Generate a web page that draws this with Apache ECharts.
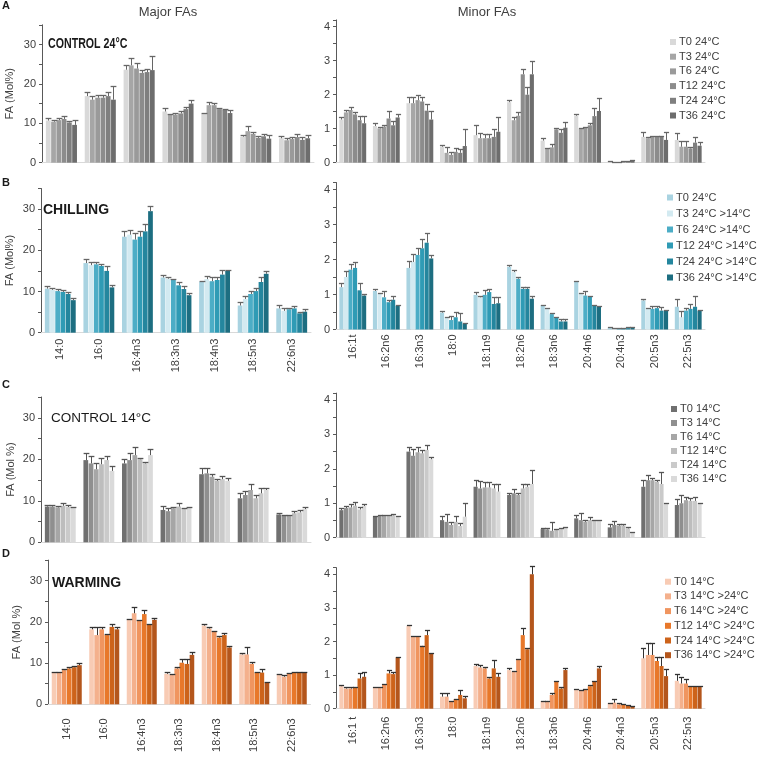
<!DOCTYPE html>
<html><head><meta charset="utf-8">
<script src="https://cdn.jsdelivr.net/npm/echarts@6/dist/echarts.min.js"></script>
<style>html,body{margin:0;padding:0;background:#fff}#c{width:758px;height:757px}</style>
</head><body><div id="c"></div>
<script>
// ---------- categories ----------
const majorCats = ['14:0','16:0','16:4n3','18:3n3','18:4n3','18:5n3','22:6n3'];
const minorCats = ['16:1t','16:2n6','16:3n3','18:0','18:1n9','18:2n6','18:3n6','20:4n6','20:4n3','20:5n3','22:5n3'];
const minorCatsD = ['16:1 t','16:2n6','16:3n3','18:0','18:1n9','18:2n6','18:3n6','20:4n6','20:4n3','20:5n3','22:5n3'];

// ---------- legend names ----------
const namesA = ['T0 24°C','T3 24°C','T6 24°C','T12 24°C','T24 24°C','T36 24°C'];
const namesB = ['T0 24°C','T3 24°C >14°C','T6 24°C >14°C','T12 24°C >14°C','T24 24°C >14°C','T36 24°C >14°C'];
const namesC = ['T0 14°C','T3 14°C','T6 14°C','T12 14°C','T24 14°C','T36 14°C'];
const namesD = ['T0 14°C','T3 14°C >24°C','T6 14°C >24°C','T12 14°C >24°C','T24 14°C >24°C','T36 14°C >24°C'];

// ---------- values: one row per category, columns T0,T3,T6,T12,T24,T36 ----------
const A_major = [[10.7,10.4,10.8,11.1,10.2,9.6],[16.9,16.0,16.5,16.5,16.9,16.0],[23.6,24.7,23.9,22.8,23.0,23.5],[13.0,12.1,12.2,12.5,13.6,15.0],[12.5,14.6,14.6,13.6,13.4,12.6],[6.6,8.0,7.3,6.3,6.7,6.1],[6.2,5.7,6.0,6.5,5.8,6.2]];
const A_majorErr = [[0.6,0.5,0.5,0.8,0.5,1.2],[1.0,1.0,0.6,0.6,1.1,3.4],[1.2,1.9,1.4,0.7,0.7,3.5],[0.9,0.3,0.4,0.5,0.6,0.8],[0.2,0.9,0.6,0.3,0.2,0.8],[0.5,1.3,0.6,0.5,0.6,0.9],[0.5,0.5,0.5,0.7,0.6,0.8]];
const A_minor = [[1.27,1.48,1.55,1.42,1.25,1.16],[1.08,1.01,1.06,1.30,1.10,1.33],[1.75,1.75,1.84,1.80,1.53,1.27],[0.47,0.29,0.23,0.32,0.29,0.49],[0.81,0.72,0.72,0.72,0.76,0.91],[1.78,1.25,1.38,2.60,2.00,2.60],[0.65,0.42,0.45,0.98,0.88,1.03],[1.38,1.00,1.03,1.10,1.37,1.52],[0.05,0.02,0.02,0.03,0.04,0.07],[0.76,0.72,0.76,0.76,0.76,0.67],[0.67,0.47,0.47,0.42,0.59,0.50]];
const A_minorErr = [[0.08,0.08,0.09,0.07,0.12,0.22],[0.08,0.05,0.05,0.22,0.12,0.09],[0.19,0.19,0.15,0.12,0.19,0.26],[0.05,0.16,0.09,0.10,0.11,0.51],[0.29,0.14,0.11,0.11,0.22,0.44],[0.06,0.10,0.12,0.15,0.22,0.38],[0.08,0.02,0.10,0.04,0.12,0.16],[0.05,0.03,0.03,0.06,0.23,0.38],[0.01,0.01,0.01,0.01,0.02,0.02],[0.13,0.05,0.03,0.03,0.03,0.24],[0.19,0.18,0.18,0.03,0.16,0.12]];

const B_major = [[10.7,10.4,10.1,9.9,9.4,7.9],[16.9,16.4,16.6,16.2,15.0,11.0],[23.3,23.8,22.6,23.3,24.6,29.5],[13.4,13.1,12.8,11.5,10.6,9.1],[12.4,13.0,12.5,12.8,14.1,15.0],[6.6,8.2,9.4,10.1,12.3,14.3],[5.9,5.3,5.7,5.9,4.7,5.1]];
const B_majorErr = [[0.6,0.5,0.5,0.4,0.6,0.5],[0.9,0.7,0.6,0.5,1.3,0.6],[1.4,1.1,1.6,1.4,1.7,1.3],[0.6,0.3,0.2,0.7,0.7,0.5],[0.1,0.7,1.0,0.8,1.2,0.2],[0.8,0.8,0.8,0.7,1.1,0.6],[0.8,0.6,0.4,0.6,0.4,0.6]];
const B_minor = [[1.21,1.50,1.71,1.76,1.12,0.97],[1.10,1.02,0.92,0.78,0.85,0.68],[1.76,1.93,2.13,2.32,2.48,2.03],[0.48,0.35,0.27,0.35,0.23,0.17],[0.99,0.92,0.99,1.07,0.73,0.75],[1.79,1.64,1.45,1.16,1.16,0.88],[0.70,0.59,0.44,0.33,0.23,0.23],[1.36,1.02,0.97,0.94,0.68,0.66],[0.05,0.03,0.03,0.03,0.04,0.05],[0.83,0.59,0.59,0.61,0.54,0.54],[0.65,0.35,0.54,0.59,0.65,0.54]];
const B_minorErr = [[0.13,0.16,0.17,0.17,0.22,0.05],[0.05,0.03,0.17,0.05,0.12,0.02],[0.19,0.24,0.19,0.26,0.27,0.10],[0.04,0.02,0.12,0.14,0.23,0.02],[0.08,0.05,0.13,0.09,0.19,0.17],[0.05,0.07,0.05,0.05,0.05,0.09],[0.01,0.03,0.02,0.02,0.07,0.07],[0.04,0.02,0.12,0.03,0.01,0.01],[0.01,0.01,0.01,0.01,0.02,0.02],[0.05,0.02,0.09,0.07,0.11,0.01],[0.23,0.19,0.07,0.14,0.32,0.01]];

const C_major = [[8.6,8.6,8.4,8.8,8.5,8.4],[19.8,19.0,17.6,18.8,19.8,17.2],[19.0,19.8,21.0,20.0,19.0,21.0],[7.8,7.5,8.2,8.6,8.0,8.3],[16.4,16.6,15.8,14.8,15.2,14.8],[10.6,11.4,12.6,10.6,11.8,12.6],[6.7,6.4,6.4,7.0,7.2,8.0]];
const C_majorErr = [[0.4,0.4,0.3,0.7,0.6,0.2],[1.6,1.8,1.4,1.6,1.0,1.2],[1.0,1.8,2.0,0.4,0.4,1.4],[0.9,0.8,0.4,0.9,0.3,0.1],[1.6,1.4,0.6,0.4,0.8,0.6],[1.2,0.9,1.4,0.9,1.2,0.6],[0.4,0.2,0.2,0.5,0.6,0.6]];
const C_minor = [[0.80,0.86,0.88,0.93,0.82,0.92],[0.61,0.63,0.63,0.65,0.65,0.63],[2.50,2.38,2.48,2.45,2.55,2.28],[0.51,0.46,0.37,0.46,0.34,0.61],[1.48,1.43,1.46,1.46,1.43,1.34],[1.24,1.29,1.24,1.43,1.48,1.56],[0.25,0.24,0.20,0.22,0.25,0.29],[0.56,0.51,0.46,0.51,0.51,0.51],[0.30,0.37,0.35,0.35,0.27,0.15],[1.48,1.67,1.67,1.62,1.56,0.98],[0.95,1.00,1.09,1.07,1.07,1.00]];
const C_minorErr = [[0.06,0.06,0.10,0.12,0.07,0.06],[0.03,0.02,0.02,0.02,0.04,0.01],[0.12,0.20,0.15,0.10,0.15,0.06],[0.12,0.23,0.09,0.17,0.10,0.41],[0.20,0.23,0.15,0.15,0.13,0.21],[0.07,0.12,0.05,0.12,0.07,0.41],[0.02,0.05,0.26,0.02,0.02,0.01],[0.10,0.20,0.05,0.10,0.01,0.01],[0.10,0.12,0.05,0.05,0.05,0.02],[0.21,0.15,0.05,0.06,0.36,0.02],[0.16,0.24,0.09,0.07,0.10,0.02]];

const D_major = [[7.7,7.7,8.3,8.7,9.0,9.5],[18.2,16.8,18.2,16.8,18.8,18.2],[20.5,22.1,20.3,21.9,19.4,20.5],[7.4,7.1,8.7,10.1,9.8,12.0],[19.1,18.4,17.6,16.2,16.8,13.8],[12.1,12.1,9.8,7.7,7.7,5.3],[7.1,6.7,7.5,7.8,7.7,7.8]];
const D_majorErr = [[0.2,0.2,0.2,0.3,0.3,0.6],[0.6,2.0,0.6,0.3,0.8,0.6],[0.1,1.6,0.1,1.0,0.2,0.5],[0.5,0.3,0.3,0.8,1.1,0.8],[0.3,0.4,0.2,0.4,0.4,0.3],[0.4,1.7,0.5,0.2,0.8,0.2],[0.3,0.4,0.2,0.1,0.1,0.1]];
const D_minor = [[0.67,0.60,0.60,0.64,0.90,0.95],[0.63,0.63,0.73,1.05,1.03,1.53],[2.46,2.14,2.14,1.87,2.19,1.65],[0.36,0.36,0.21,0.28,0.41,0.31],[1.27,1.23,1.20,0.90,1.20,0.95],[1.15,1.10,1.45,2.19,1.77,4.00],[0.23,0.23,0.41,0.80,0.60,1.15],[0.58,0.54,0.56,0.67,0.80,1.20],[0.16,0.18,0.13,0.11,0.11,0.06],[1.50,1.60,1.60,1.42,1.27,0.97],[0.83,0.75,0.75,0.66,0.66,0.67]];
const D_minorErr = [[0.03,0.04,0.04,0.02,0.17,0.15],[0.01,0.01,0.01,0.10,0.07,0.01],[0.02,0.02,0.02,0.01,0.15,0.01],[0.10,0.12,0.01,0.01,0.15,0.07],[0.06,0.07,0.05,0.05,0.25,0.10],[0.05,0.02,0.02,0.22,0.03,0.25],[0.01,0.01,0.05,0.03,0.06,0.05],[0.01,0.01,0.02,0.03,0.03,0.07],[0.02,0.10,0.05,0.02,0.01,0.03],[0.30,0.35,0.35,0.13,0.28,0.20],[0.20,0.20,0.12,0.02,0.02,0.01]];

// ---------- styling ----------
const FONT = "'Liberation Sans', Arial, sans-serif";
const colorsA = ['#d9d9d9','#a6a6a6','#9a9a9a','#8c8c8c','#7f7f7f','#6d6d6d'];
const colorsB = ['#a9d3e1','#d3eaf1','#4cadc6','#2f9bb5','#24869e','#1d6e81'];
const colorsC = ['#707070','#8f8f8f','#a6a6a6','#bdbdbd','#cacaca','#dadada'];
const colorsD = ['#f8cbb4','#f4b08c','#f0955f','#e8782a','#cd631a','#b4561c'];

const panels = [
  {cats: majorCats, vals: A_major, errs: A_majorErr, colors: colorsA, names: namesA, major: true,  grid: {left: 42, top: 24.8, width: 272, height: 137.9}, showLabels: false, yName: 'FA (Mol%)', nameGap: 27, errColor: '#666'},
  {cats: minorCats, vals: A_minor, errs: A_minorErr, colors: colorsA, names: namesA, major: false, grid: {left: 336, top: 19.9, width: 369, height: 142.8}, showLabels: false, errColor: '#666',
    legend: {left: 665, top: 31, itemGap: 2.7}},
  {cats: majorCats, vals: B_major, errs: B_majorErr, colors: colorsB, names: namesB, major: true,  grid: {left: 41, top: 188.5, width: 270, height: 144.2}, showLabels: true, margin: 6, yName: 'FA (Mol%)', nameGap: 25.5, errColor: '#666'},
  {cats: minorCats, vals: B_minor, errs: B_minorErr, colors: colorsB, names: namesB, major: false, grid: {left: 336, top: 182.5, width: 369, height: 147}, showLabels: true, margin: 5, errColor: '#666',
    legend: {left: 662, top: 186.5, itemGap: 4}},
  {cats: majorCats, vals: C_major, errs: C_majorErr, colors: colorsC, names: namesC, major: true,  grid: {left: 41, top: 397, width: 270, height: 145.3}, showLabels: false, yName: 'FA (Mol %)', nameGap: 25, errColor: '#555'},
  {cats: minorCats, vals: C_minor, errs: C_minorErr, colors: colorsC, names: namesC, major: false, grid: {left: 336, top: 393.1, width: 369, height: 144.6}, showLabels: false, errColor: '#555',
    legend: {left: 666, top: 398, itemGap: 2}},
  {cats: majorCats, vals: D_major, errs: D_majorErr, colors: colorsD, names: namesD, major: true,  grid: {left: 48, top: 560.1, width: 262.5, height: 144.2}, showLabels: true, margin: 14, yName: 'FA (Mol %)', nameGap: 26, errColor: '#333'},
  {cats: minorCatsD, vals: D_minor, errs: D_minorErr, colors: colorsD, names: namesD, major: false, grid: {left: 336, top: 567.6, width: 369, height: 141.1}, showLabels: true, margin: 8, errColor: '#333',
    legend: {left: 660, top: 570.7, itemGap: 2.7}}
];

const BAR_GAP = 0.1, CAT_GAP = 0.2, N = 6;
const grids = [], xAxes = [], yAxes = [], series = [], legends = [];

panels.forEach((p, gi) => {
  grids.push(Object.assign({containLabel: false}, p.grid));
  xAxes.push({
    type: 'category', gridIndex: gi, data: p.cats,
    axisLine: {lineStyle: {color: '#d9d9d9', width: 1}},
    axisTick: {show: false},
    axisLabel: {show: p.showLabels, rotate: 90, interval: 0, fontSize: 11, color: '#404040', fontFamily: FONT, margin: p.margin || 6}
  });
  yAxes.push({
    type: 'value', gridIndex: gi, min: 0,
    max: p.major ? 35 : 4.2, interval: p.major ? 5 : 0.5,
    name: p.yName || '', nameLocation: 'middle', nameGap: p.nameGap || 0,
    nameTextStyle: {fontSize: 11, color: '#404040', fontFamily: FONT},
    axisLine: {show: true, lineStyle: {color: '#595959', width: 1}},
    axisTick: {show: true, length: 3, lineStyle: {color: '#595959'}},
    splitLine: {show: false},
    axisLabel: {fontSize: 11, color: '#404040', fontFamily: FONT, margin: 6,
      formatter: v => {
        if (p.major) return (Math.abs(v % 10) < 1e-6 && v <= 30) ? String(v) : '';
        return (Math.abs(v - Math.round(v)) < 1e-6 && v <= 4) ? String(Math.round(v)) : '';
      }}
  });
  for (let s = 0; s < N; s++) {
    series.push({
      type: 'bar', name: p.names[s], xAxisIndex: gi, yAxisIndex: gi,
      data: p.vals.map(row => row[s]),
      barGap: (BAR_GAP * 100) + '%', barCategoryGap: (CAT_GAP * 100) + '%',
      itemStyle: {color: p.colors[s]},
      emphasis: {disabled: true}, animation: false
    });
  }
  const errData = [];
  p.vals.forEach((row, ci) => row.forEach((v, s) => errData.push([ci, s, v, p.errs[ci][s]])));
  const errColor = p.errColor;
  series.push({
    type: 'custom', xAxisIndex: gi, yAxisIndex: gi, z: 5, animation: false,
    dimensions: ['cat', 'ser', 'val', 'err'],
    encode: {x: 0, y: 2},
    data: errData,
    renderItem: (params, api) => {
      const cat = api.value(0), s = api.value(1), v = api.value(2), e = api.value(3);
      const bw = api.size([1, 0])[0];
      const total = bw * (1 - CAT_GAP);
      const w = total / (N + (N - 1) * BAR_GAP);
      const off = -total / 2 + s * w * (1 + BAR_GAP) + w / 2;
      const p0 = api.coord([cat, v]);
      const p1 = api.coord([cat, v + e]);
      const x = Math.round(p0[0] + off) + 0.5;
      const yTop = Math.round(p1[1]) + 0.5;
      const half = Math.max(w / 2 + 0.5, 2.5);
      return {type: 'group', children: [
        {type: 'line', shape: {x1: x, y1: p0[1], x2: x, y2: yTop}, style: {stroke: errColor, lineWidth: 1}},
        {type: 'line', shape: {x1: x - half, y1: yTop, x2: x + half, y2: yTop}, style: {stroke: errColor, lineWidth: 1.3}}
      ]};
    }
  });
  if (p.legend) {
    legends.push({
      orient: 'vertical', left: p.legend.left, top: p.legend.top,
      itemWidth: 6, itemHeight: 6, itemGap: p.legend.itemGap, icon: 'rect',
      selectedMode: false,
      textStyle: {fontSize: 11, color: '#404040', fontFamily: FONT, lineHeight: 12, padding: [0, 0, 0, -2]},
      data: p.names.map((n, i) => ({name: n, itemStyle: {color: p.colors[i]}, icon: 'rect'}))
    });
  }
});

const txt = (x, y, text, font, align, fill) => ({type: 'text', x: x, y: y, silent: true,
  style: {text: text, font: font, fill: fill || '#1a1a1a', textAlign: align || 'left', textVerticalAlign: 'middle'}});

const control24 = txt(48, 44, 'CONTROL 24°C', "bold 14px " + FONT);
control24.scaleX = 0.76; control24.originX = 0; control24.originY = 0;

const graphics = [
  txt(2, 6, 'A', "bold 11px " + FONT),
  txt(2, 183, 'B', "bold 11px " + FONT),
  txt(2, 385, 'C', "bold 11px " + FONT),
  txt(2, 554, 'D', "bold 11px " + FONT),
  txt(168, 12, 'Major FAs', "13px " + FONT, 'center', '#404040'),
  txt(487, 12, 'Minor FAs', "13px " + FONT, 'center', '#404040'),
  control24,
  txt(43, 210, 'CHILLING', "bold 14px " + FONT),
  txt(51, 418, 'CONTROL 14°C', "13.5px " + FONT),
  txt(52, 583, 'WARMING', "bold 14px " + FONT)
];

const chart = echarts.init(document.getElementById('c'), null, {renderer: 'canvas'});
chart.setOption({
  animation: false,
  backgroundColor: '#ffffff',
  textStyle: {fontFamily: FONT},
  grid: grids, xAxis: xAxes, yAxis: yAxes, series: series, legend: legends,
  graphic: graphics
});
</script></body></html>
